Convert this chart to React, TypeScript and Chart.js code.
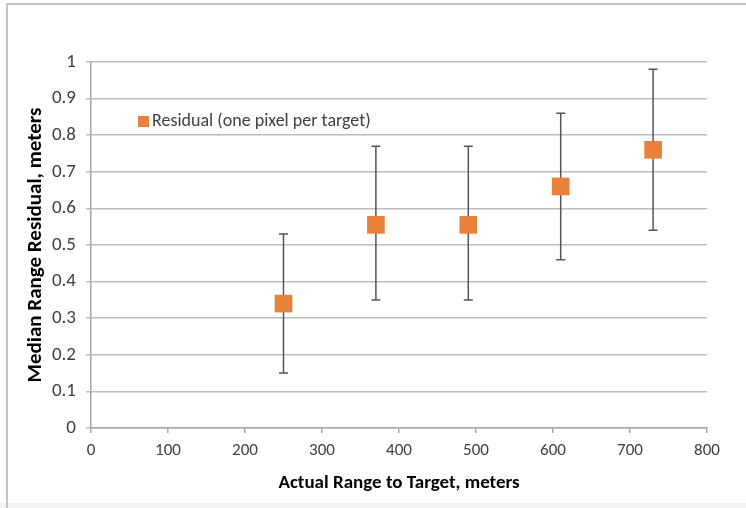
import React, { useEffect, useRef } from "react";
import { Chart, registerables } from "chart.js";

Chart.register(...registerables);

const seriesLabel = "Residual (one pixel per target)";
const ranges = [250, 370, 490, 610, 730];
const medians = [0.34, 0.555, 0.555, 0.66, 0.76];
const errLow = [0.15, 0.35, 0.35, 0.46, 0.54];
const errHigh = [0.53, 0.77, 0.77, 0.86, 0.98];

const FONT = "Carlito, Lato, 'Liberation Sans Narrow', sans-serif";
const ORANGE = "#E8813A";

const framePlugin = {
  id: "frame",
  beforeDraw(chart: any) {
    const { ctx, width, height } = chart;
    ctx.save();
    ctx.fillStyle = "#ffffff";
    ctx.fillRect(0, 0, width, height);
    ctx.fillStyle = "#f3f3f3";
    ctx.fillRect(0, height - 5, width, 5);
    ctx.strokeStyle = "#c4c4c4";
    ctx.lineWidth = 2;
    ctx.beginPath();
    ctx.moveTo(7, height);
    ctx.lineTo(7, 4);
    ctx.lineTo(width, 4);
    ctx.stroke();
    ctx.restore();
  },
};

const errorBarPlugin = {
  id: "errorBars",
  beforeDatasetsDraw(chart: any) {
    const { ctx, scales } = chart;
    const xs = scales.x;
    const ys = scales.y;
    ctx.save();
    ctx.strokeStyle = "#555555";
    ctx.lineWidth = 1.5;
    for (let i = 0; i < ranges.length; i++) {
      const px = xs.getPixelForValue(ranges[i]);
      const lo = ys.getPixelForValue(errLow[i]);
      const hi = ys.getPixelForValue(errHigh[i]);
      ctx.beginPath();
      ctx.moveTo(px, lo);
      ctx.lineTo(px, hi);
      ctx.moveTo(px - 4.5, lo);
      ctx.lineTo(px + 4.5, lo);
      ctx.moveTo(px - 4.5, hi);
      ctx.lineTo(px + 4.5, hi);
      ctx.stroke();
    }
    ctx.restore();
  },
};

const legendPlugin = {
  id: "insideLegend",
  afterDraw(chart: any) {
    const { ctx, chartArea } = chart;
    const ds = chart.data.datasets[0];
    const x = chartArea.left + 47;
    const y = chartArea.top + 59;
    ctx.save();
    ctx.fillStyle = ds.backgroundColor;
    ctx.fillRect(x, y - 5, 11, 11);
    ctx.fillStyle = "#404040";
    ctx.font = `18px ${FONT}`;
    ctx.textBaseline = "middle";
    ctx.textAlign = "left";
    ctx.fillText(ds.label, x + 14, y);
    ctx.restore();
  },
};

export default function App() {
  const ref = useRef<HTMLCanvasElement>(null);

  useEffect(() => {
    if (!ref.current) return;
    const chart = new Chart(ref.current, {
      type: "scatter",
      data: {
        datasets: [
          {
            label: seriesLabel,
            data: ranges.map((r, i) => ({ x: r, y: medians[i] })),
            backgroundColor: ORANGE,
            borderColor: ORANGE,
            pointStyle: "rect",
            pointRadius: 12.5,
            pointHoverRadius: 12.5,
            borderWidth: 0,
          },
        ],
      },
      options: {
        responsive: false,
        animation: false,
        events: [],
        layout: { padding: { left: 20, top: 62, right: 39, bottom: 12 } },
        plugins: {
          legend: { display: false },
          tooltip: { enabled: false },
        },
        scales: {
          x: {
            type: "linear",
            min: 0,
            max: 800,
            afterFit: (s: any) => {
              s.height = 68;
            },
            ticks: {
              stepSize: 100,
              color: "#404040",
              padding: 8,
              font: { family: FONT, size: 17 },
            },
            grid: {
              drawOnChartArea: false,
              drawTicks: true,
              tickLength: 5,
              color: "#a6a6a6",
              lineWidth: 1.5,
            },
            border: { color: "#a6a6a6", width: 1.5 },
            title: {
              display: true,
              text: "Actual Range to Target, meters",
              color: "#000000",
              font: { family: FONT, size: 19, weight: "bold" },
              padding: { top: 0, bottom: 1 },
            },
          },
          y: {
            type: "linear",
            min: 0,
            max: 1,
            afterFit: (s: any) => {
              s.width = 71;
            },
            ticks: {
              stepSize: 0.1,
              color: "#404040",
              padding: 10,
              font: { family: FONT, size: 19 },
              callback: (v: any) => String(Math.round(Number(v) * 10) / 10),
            },
            grid: {
              drawOnChartArea: true,
              drawTicks: true,
              tickLength: 5,
              color: "#bcbcbc",
              lineWidth: 1.5,
            },
            border: { color: "#a6a6a6", width: 1.5 },
            title: {
              display: true,
              text: "Median Range Residual, meters",
              color: "#000000",
              font: { family: FONT, size: 21, weight: "bold" },
              padding: { top: 3, bottom: 0 },
            },
          },
        },
      },
      plugins: [framePlugin, errorBarPlugin, legendPlugin],
    });
    return () => chart.destroy();
  }, []);

  return (
    <div style={{ position: "fixed", left: 0, top: 0, width: 746, height: 508 }}>
      <canvas ref={ref} width={746} height={508} style={{ display: "block" }} />
    </div>
  );
}
